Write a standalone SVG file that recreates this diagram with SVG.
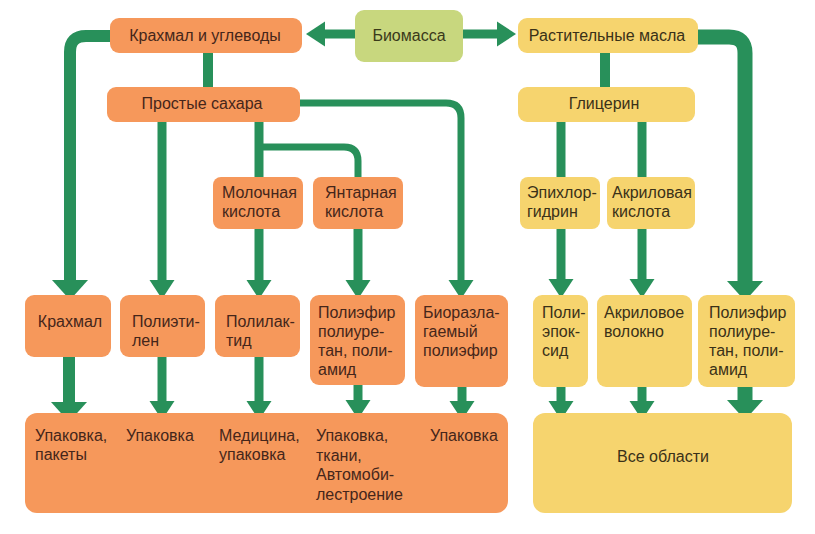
<svg xmlns="http://www.w3.org/2000/svg" width="815" height="534" viewBox="0 0 815 534">
<style>
.o{fill:#F6985B}
.y{fill:#F6D46E}
.g{fill:#C8D77E}
text{font-family:"Liberation Sans",Arial,sans-serif;font-size:16px;fill:#45261a}
.ty text{fill:#3a3118}
.tg text{fill:#3a3a1a}
.c{text-anchor:middle}
.ln{fill:none;stroke:#28905A;stroke-linejoin:round}
.w7{stroke-width:7}
.w9{stroke-width:9}
.w10{stroke-width:10}
.w12{stroke-width:12}
.w15{stroke-width:15}
</style>
<defs>
<marker id="ah" markerUnits="userSpaceOnUse" markerWidth="20" markerHeight="26" viewBox="0 -13 20 26" refX="0" refY="0" orient="auto"><path d="M0,-12.5 L19,0 L0,12.5 Z" fill="#28905A"/></marker>
<marker id="ahL" markerUnits="userSpaceOnUse" markerWidth="22" markerHeight="38" viewBox="0 -19 22 38" refX="0" refY="0" orient="auto"><path d="M0,-18 L20,0 L0,18 Z" fill="#28905A"/></marker>
</defs>
<rect width="815" height="534" fill="#ffffff"/>
<g id="connectors">
<path class="ln w9" d="M355,34 H325" marker-end="url(#ah)"/>
<path class="ln w9" d="M463,34 H497" marker-end="url(#ah)"/>
<path class="ln w12" d="M112,36 H86 Q70,36 70,52 V280" marker-end="url(#ahL)"/>
<path class="ln w10" d="M208,52 V88"/>
<path class="ln w9" d="M162,121 V280" marker-end="url(#ah)"/>
<path class="ln w9" d="M259,121 V178"/>
<path class="ln w7" d="M259,147 H344 Q358,147 358,161 V178"/>
<path class="ln w9" d="M259,228 V280" marker-end="url(#ah)"/>
<path class="ln w9" d="M358,228 V280" marker-end="url(#ah)"/>
<path class="ln w7" d="M299,103 H446 Q461,103 461,118 V280" marker-end="url(#ah)"/>
<path class="ln w10" d="M605,52 V88"/>
<path class="ln w15" d="M697,37 H729 Q745,37 745,53 V281" marker-end="url(#ahL)"/>
<path class="ln w9" d="M561,121 V178"/>
<path class="ln w9" d="M642,121 V178"/>
<path class="ln w9" d="M561,228 V279" marker-end="url(#ah)"/>
<path class="ln w9" d="M642,228 V279" marker-end="url(#ah)"/>
<path class="ln w12" d="M69,356 V402" marker-end="url(#ahL)"/>
<path class="ln w9" d="M162,356 V401" marker-end="url(#ah)"/>
<path class="ln w9" d="M259,356 V401" marker-end="url(#ah)"/>
<path class="ln w9" d="M358,384 V400" marker-end="url(#ah)"/>
<path class="ln w9" d="M462,386 V401" marker-end="url(#ah)"/>
<path class="ln w9" d="M561,386 V401" marker-end="url(#ah)"/>
<path class="ln w9" d="M642,386 V401" marker-end="url(#ah)"/>
<path class="ln w15" d="M745,386 V400" marker-end="url(#ahL)"/>
</g>
<g id="n-biomass" class="tg"><rect class="g" x="355" y="10" width="108" height="52" rx="9"/><text class="c" x="409" y="40.5">Биомасса</text></g>
<g id="n-starch-carbs"><rect class="o" x="110" y="18" width="192" height="35" rx="9"/><text class="c" x="205" y="40.5">Крахмал и углеводы</text></g>
<g id="n-veg-oils" class="ty"><rect class="y" x="518" y="18" width="180" height="35" rx="9"/><text class="c" x="607" y="40.5">Растительные масла</text></g>
<g id="n-sugars"><rect class="o" x="107" y="87" width="193" height="35" rx="9"/><text class="c" x="202" y="109">Простые сахара</text></g>
<g id="n-glycerin" class="ty"><rect class="y" x="518" y="87" width="177" height="35" rx="9"/><text class="c" x="604" y="109">Глицерин</text></g>
<g id="n-lactic"><rect class="o" x="213" y="177" width="90" height="52" rx="8"/><text x="222" y="198">Молочная</text><text x="222" y="217">кислота</text></g>
<g id="n-succinic"><rect class="o" x="313" y="177" width="90" height="52" rx="8"/><text x="325" y="198">Янтарная</text><text x="325" y="217">кислота</text></g>
<g id="n-epichlor" class="ty"><rect class="y" x="520" y="177" width="80" height="52" rx="8"/><text x="527" y="198">Эпихлор-</text><text x="527" y="217">гидрин</text></g>
<g id="n-acrylic-acid" class="ty"><rect class="y" x="607" y="177" width="88" height="52" rx="8"/><text x="612" y="198">Акриловая</text><text x="612" y="217">кислота</text></g>
<g id="n-starch"><rect class="o" x="25" y="295" width="86" height="62" rx="9"/><text class="c" x="70" y="327">Крахмал</text></g>
<g id="n-pe"><rect class="o" x="120" y="295" width="85" height="62" rx="9"/><text x="132" y="327">Полиэти-</text><text x="132" y="346">лен</text></g>
<g id="n-pla"><rect class="o" x="215" y="295" width="85" height="62" rx="9"/><text x="226" y="327">Полилак-</text><text x="226" y="346">тид</text></g>
<g id="n-pu1"><rect class="o" x="310" y="295" width="95" height="90" rx="9"/><text x="318" y="318">Полиэфир</text><text x="318" y="337">полиуре-</text><text x="318" y="356">тан, поли-</text><text x="318" y="375">амид</text></g>
<g id="n-biodeg"><rect class="o" x="415" y="295" width="93" height="92" rx="9"/><text x="423" y="318">Биоразла-</text><text x="423" y="337">гаемый</text><text x="423" y="356">полиэфир</text></g>
<g id="n-epoxy" class="ty"><rect class="y" x="533" y="295" width="55" height="92" rx="9"/><text x="542" y="318">Поли-</text><text x="542" y="337">эпок-</text><text x="542" y="356">сид</text></g>
<g id="n-acryl-fiber" class="ty"><rect class="y" x="597" y="295" width="95" height="92" rx="9"/><text x="604" y="318">Акриловое</text><text x="604" y="337">волокно</text></g>
<g id="n-pu2" class="ty"><rect class="y" x="698" y="295" width="97" height="92" rx="9"/><text x="709" y="318">Полиэфир</text><text x="709" y="337">полиуре-</text><text x="709" y="356">тан, поли-</text><text x="709" y="375">амид</text></g>
<g id="n-uses"><rect class="o" x="25" y="413" width="483" height="100" rx="12"/>
<text x="35" y="441">Упаковка,</text><text x="35" y="460">пакеты</text>
<text x="126" y="441">Упаковка</text>
<text x="219" y="441">Медицина,</text><text x="219" y="460">упаковка</text>
<text x="316" y="441">Упаковка,</text><text x="316" y="460.5">ткани,</text><text x="316" y="480">Автомоби-</text><text x="316" y="499.5">лестроение</text>
<text x="430" y="441">Упаковка</text></g>
<g id="n-all" class="ty"><rect class="y" x="533" y="413" width="259" height="100" rx="12"/><text class="c" x="663" y="462">Все области</text></g>
</svg>
